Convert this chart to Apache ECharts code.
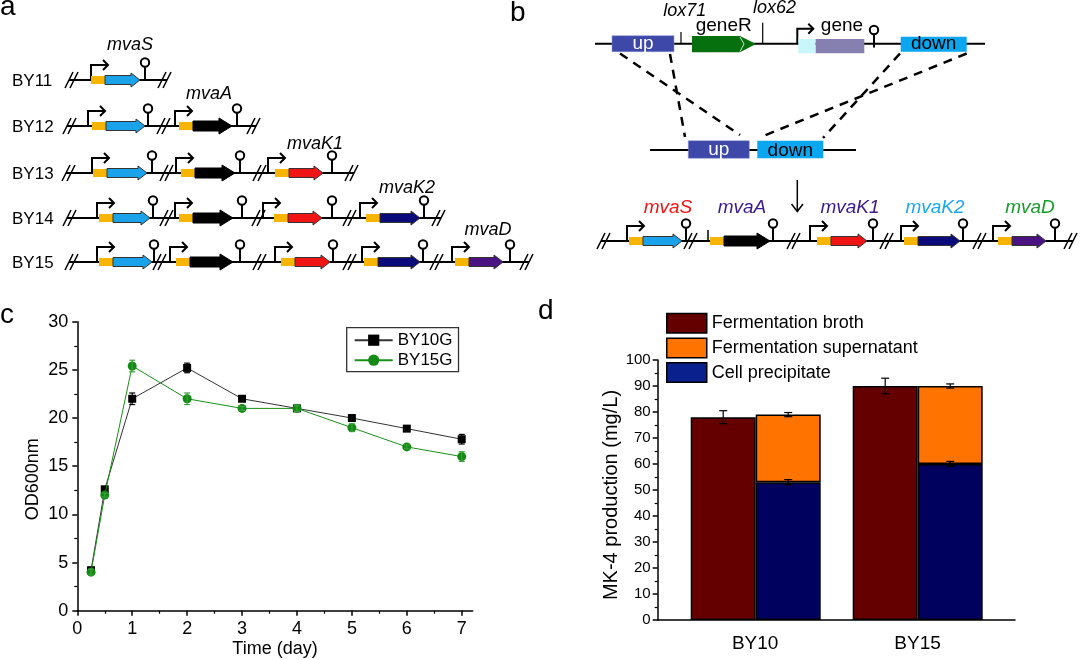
<!DOCTYPE html>
<html><head><meta charset="utf-8">
<script src="https://cdn.jsdelivr.net/npm/echarts@6/dist/echarts.min.js"></script>
<style>html,body{margin:0;padding:0;background:#fff}#main{width:1080px;height:660px}</style>
</head><body><div id="main"></div>
<script>
// ---------------- data ----------------
// panel c : growth curves
const timeDays = [0.25, 0.5, 1, 2, 3, 4, 5, 6, 7];
const by10g    = [4.2, 12.6, 22.0, 25.2, 22.0, 21.0, 20.0, 18.9, 17.8];
const by10gErr = [0.3, 0.2, 0.6, 0.5, 0.2, 0.2, 0.3, 0.2, 0.5];
const by15g    = [4.0, 12.0, 25.4, 22.0, 21.0, 21.0, 19.0, 17.0, 16.0];
const by15gErr = [0.3, 0.2, 0.6, 0.6, 0.2, 0.3, 0.4, 0.2, 0.5];
const dayTicks = [0, 1, 2, 3, 4, 5, 6, 7];
// panel d : MK-4 production
const strains = ['BY10', 'BY15'];
const strainPos = [1, 2];
const broth = [78, 90];
const brothErr = [2.5, 3];
const precipitate = [53, 60];
const precipitateErr = [1.0, 1.0];
const supernatant = [26, 30];
const supernatantErr = [0.8, 0.8];
const legendD = ['Fermentation broth', 'Fermentation supernatant', 'Cell precipitate'];

// ---------------- schematic drawing (panels a, b) ----------------
const FF = '"Liberation Sans", Arial, Helvetica, sans-serif';
const K = '#000';
const BLUE = '#1aa3ea', BLACK = '#000', RED = '#f01414', NAVY = '#0a0a7a', PURPLE = '#4b1282';
const G = [];
function ln(x1, y1, x2, y2, w, c, dash) {
  G.push({type: 'line', shape: {x1, y1, x2, y2}, style: {stroke: c || K, lineWidth: w || 2, lineDash: dash || null}});
}
function txt(x, y, s, size, opt) {
  opt = opt || {};
  G.push({type: 'text', x, y, style: {text: s, fontSize: size, fontFamily: FF,
    fontStyle: opt.italic ? 'italic' : 'normal', fill: opt.color || '#000',
    align: opt.align || 'center', verticalAlign: 'middle'}});
}
function brk(x, y) { ln(x, y + 8, x + 8, y - 8, 1.6); ln(x + 5, y + 8, x + 13, y - 8, 1.6); }
function prom(x, y, len) {
  G.push({type: 'polyline', shape: {points: [[x, y], [x, y - 15], [x + len, y - 15]]}, style: {stroke: K, lineWidth: 2, fill: null}});
  G.push({type: 'polyline', shape: {points: [[x + len - 5, y - 20], [x + len, y - 15], [x + len - 5, y - 10]]}, style: {stroke: K, lineWidth: 2, fill: null}});
}
function term(x, y) {
  ln(x, y, x, y - 13, 2);
  G.push({type: 'circle', shape: {cx: x, cy: y - 17.5, r: 4.2}, style: {fill: '#fff', stroke: K, lineWidth: 2}});
}
function rbs(x1, x2, y) { G.push({type: 'rect', shape: {x: x1, y: y - 4, width: x2 - x1, height: 8}, style: {fill: '#f7b500'}}); }
function gene(x1, x2, y, color) {
  const thick = color === BLACK;
  const h = thick ? 5 : 4.5, hh = thick ? 8 : 7, hl = thick ? 13 : 9;
  G.push({type: 'polygon', shape: {points: [[x1, y - h], [x2 - hl, y - h], [x2 - hl, y - hh], [x2, y], [x2 - hl, y + hh], [x2 - hl, y + h], [x1, y + h]]},
    style: {fill: color, stroke: thick ? '#000' : '#333', lineWidth: 1}});
}
function row(y, breaks, cassettes) {
  ln(breaks[0] + 4, y, breaks[breaks.length - 1] + 9, y, 2);
  breaks.forEach(b => brk(b, y));
  cassettes.forEach(c => {
    const [p, gs, ge, t, col] = c;
    if (p !== null) prom(p, y, 17); else ln(gs - 16, y, gs - 16, y - 11, 1.5);
    rbs(gs - 14, gs, y);
    gene(gs, ge, y, col);
    term(t, y);
  });
}
// panel labels
txt(0, 7, 'a', 28, {align: 'left'});
txt(510, 13, 'b', 28, {align: 'left'});
txt(0, 315, 'c', 28, {align: 'left'});
txt(538, 311, 'd', 28, {align: 'left'});

// panel a
const rowNames = ['BY11', 'BY12', 'BY13', 'BY14', 'BY15'];
const rowY = [80, 126, 173, 218, 262];
rowNames.forEach((n, i) => txt(12, rowY[i] + 1, n, 17, {align: 'left'}));
row(80, [65, 158], [[91, 105, 140, 145, BLUE]]);
row(126, [63, 157, 247], [[88, 106, 145, 148, BLUE], [175, 193, 232, 237, BLACK]]);
row(173, [62, 160, 253, 345], [[92, 107, 147, 152, BLUE], [176, 195, 235, 240, BLACK], [268, 289, 323, 332, RED]]);
row(218, [63, 160, 252, 343, 432], [[97, 113, 150, 153, BLUE], [175, 193, 233, 242, BLACK], [263, 288, 322, 332, RED], [360, 380, 420, 424, NAVY]]);
row(262, [65, 153, 253, 343, 430, 520], [[97, 113, 152, 154, BLUE], [170, 190, 233, 240, BLACK], [275, 295, 330, 333, RED], [362, 378, 420, 423, NAVY], [452, 469, 503, 510, PURPLE]]);
txt(130, 45, 'mvaS', 18, {italic: true});
txt(209, 94, 'mvaA', 18, {italic: true});
txt(315, 144, 'mvaK1', 18, {italic: true});
txt(407, 188, 'mvaK2', 18, {italic: true});
txt(488, 230, 'mvaD', 18, {italic: true});

// panel b top construct
ln(595, 43.7, 985, 43.7, 2);
G.push({type: 'rect', shape: {x: 612, y: 35.7, width: 62, height: 16}, style: {fill: '#3d48a8', stroke: '#8890d0', lineWidth: 0.5}});
txt(643, 43.5, 'up', 19, {color: '#fff'});
ln(681, 43.7, 681, 32, 1.2);
txt(684.7, 11, 'lox71', 18, {italic: true});
G.push({type: 'polygon', shape: {points: [[692, 36], [740, 36], [756, 44], [740, 52.3], [692, 52.3]]}, style: {fill: '#06700f'}});
ln(740, 37, 744, 44, 0.8, '#fff'); ln(744, 44, 740, 51.5, 0.8, '#fff');
txt(723.7, 25.7, 'geneR', 19);
ln(762.7, 43.7, 762.7, 22.7, 1.2);
txt(774.5, 8.3, 'lox62', 18, {italic: true});
prom(797.3, 43.7, 16);
G.push({type: 'rect', shape: {x: 798.3, y: 39, width: 17.4, height: 14.3}, style: {fill: '#c8f6fa'}});
G.push({type: 'rect', shape: {x: 815.7, y: 39, width: 48.6, height: 14.3}, style: {fill: '#8580b0'}});
txt(842, 26, 'gene', 19);
term(874, 47.5);
G.push({type: 'rect', shape: {x: 900.7, y: 36.7, width: 66, height: 15}, style: {fill: '#0aa6ef'}});
txt(933.7, 44, 'down', 19);
// dashed recombination lines
const DASH = [9, 7];
ln(620, 53.5, 740, 135, 2.5, K, DASH);
ln(670, 54, 685, 137, 2.5, K, DASH);
ln(900, 53.5, 823, 138, 2.5, K, DASH);
ln(966.7, 53.5, 762, 136.5, 2.5, K, DASH);
// middle construct
ln(650, 150, 856, 150, 2);
G.push({type: 'rect', shape: {x: 688.3, y: 140.7, width: 61, height: 17.6}, style: {fill: '#3d48a8', stroke: '#8890d0', lineWidth: 0.5}});
txt(718.8, 149.3, 'up', 19, {color: '#fff'});
G.push({type: 'rect', shape: {x: 757.3, y: 140.7, width: 66, height: 17.6}, style: {fill: '#0aa6ef'}});
txt(790.3, 150.3, 'down', 19);
// down arrow
ln(797.3, 180, 797.3, 211, 1.5);
G.push({type: 'polyline', shape: {points: [[791.5, 204], [797.3, 211.5], [803, 204]]}, style: {stroke: K, lineWidth: 1.5, fill: null}});
// bottom construct
row(241, [597, 684, 787, 880, 973, 1064], [[627, 643, 682, 686, BLUE], [null, 724, 770, 773, BLACK], [810, 831, 867, 873, RED], [901, 918, 960, 963, NAVY], [993, 1012, 1046, 1055, PURPLE]]);
txt(668, 208, 'mvaS', 19, {italic: true, color: '#f01414'});
txt(742, 208, 'mvaA', 19, {italic: true, color: '#3b1a8e'});
txt(850, 208, 'mvaK1', 19, {italic: true, color: '#3b1a8e'});
txt(935, 208, 'mvaK2', 19, {italic: true, color: '#1aa8f0'});
txt(1030, 208, 'mvaD', 19, {italic: true, color: '#1a9a2a'});

// ---------------- charts (panels c, d) ----------------
function errBar(capHalf, offsetPx, color) {
  return function (params, api) {
    const x = api.value(0), y = api.value(1), e = api.value(2);
    const hi = api.coord([x, y + e]), lo = api.coord([x, y - e]);
    const cx = hi[0] + offsetPx;
    const st = {stroke: color, lineWidth: 1.2};
    return {type: 'group', children: [
      {type: 'line', shape: {x1: cx, y1: hi[1], x2: cx, y2: lo[1]}, style: st},
      {type: 'line', shape: {x1: cx - capHalf, y1: hi[1], x2: cx + capHalf, y2: hi[1]}, style: st},
      {type: 'line', shape: {x1: cx - capHalf, y1: lo[1], x2: cx + capHalf, y2: lo[1]}, style: st}
    ]};
  };
}
const axisTxt = (size) => ({fontSize: size, color: '#000', fontFamily: FF});
const minorDays = dayTicks.slice(0, -1).map(d => d + 0.5);

const option = {
  animation: false,
  backgroundColor: '#fff',
  textStyle: {fontFamily: FF},
  grid: [
    {left: 77.3, top: 321.7, width: 395.4, height: 289},
    {left: 657.7, top: 360, width: 357.3, height: 260},
    {left: 674.7, top: 360, width: 324, height: 260}
  ],
  xAxis: [
    {type: 'value', gridIndex: 0, position: 'bottom', min: 0, max: 7.2, interval: 1,
     axisLine: {lineStyle: {color: '#000', width: 1.5}},
     axisTick: {show: true, length: 5, customValues: dayTicks, lineStyle: {color: '#000', width: 1.5}},
     axisLabel: Object.assign({customValues: dayTicks, margin: 9}, axisTxt(18)),
     splitLine: {show: false},
     name: 'Time (day)', nameLocation: 'middle', nameGap: 29, nameTextStyle: axisTxt(18)},
    {type: 'value', gridIndex: 0, position: 'bottom', min: 0, max: 7.2, interval: 1,
     axisLine: {show: false},
     axisTick: {show: true, length: 3, customValues: minorDays, lineStyle: {color: '#000', width: 1.2}},
     axisLabel: {show: false}, splitLine: {show: false}},
    {type: 'value', gridIndex: 1, position: 'bottom', min: 0.4, max: 2.6, interval: 1,
     axisLine: {lineStyle: {color: '#000', width: 1.5}},
     axisTick: {show: false},
     axisLabel: Object.assign({customValues: strainPos, margin: 14,
       formatter: v => strains[strainPos.indexOf(Math.round(v))]}, axisTxt(19)),
     splitLine: {show: false}},
    {type: 'category', gridIndex: 2, data: strains, show: false, boundaryGap: true}
  ],
  yAxis: [
    {type: 'value', gridIndex: 0, min: 0, max: 30, interval: 5,
     axisLine: {show: true, lineStyle: {color: '#000', width: 1.5}},
     axisTick: {show: true, length: 5, lineStyle: {color: '#000', width: 1.5}},
     minorTick: {show: true, splitNumber: 2, length: 3, lineStyle: {color: '#000', width: 1.2}},
     axisLabel: Object.assign({margin: 9}, axisTxt(18)),
     splitLine: {show: false},
     name: 'OD600nm', nameLocation: 'middle', nameGap: 35,
     nameTextStyle: Object.assign({padding: [0, 26, 0, 0]}, axisTxt(18))},
    {type: 'value', gridIndex: 1, min: 0, max: 100, interval: 10,
     axisLine: {show: true, lineStyle: {color: '#000', width: 1.5}},
     axisTick: {show: true, length: 5, lineStyle: {color: '#000', width: 1.5}},
     minorTick: {show: true, splitNumber: 2, length: 3, lineStyle: {color: '#000', width: 1.2}},
     axisLabel: Object.assign({margin: 7}, axisTxt(15)),
     splitLine: {show: false},
     name: 'MK-4 production (mg/L)', nameLocation: 'middle', nameGap: 36,
     nameTextStyle: Object.assign({padding: [0, 10, 0, 0]}, axisTxt(20))},
    {type: 'value', gridIndex: 2, min: 0, max: 100, show: false, splitLine: {show: false}}
  ],
  legend: [
    {data: ['BY10G', 'BY15G'], left: 346.7, top: 327.7, orient: 'vertical',
     borderColor: '#333', borderWidth: 1.3, padding: [4, 6, 3, 7], itemGap: 3,
     itemWidth: 38, itemHeight: 14, textStyle: axisTxt(17)},
    {data: [
       {name: legendD[0], itemStyle: {color: '#650000'}},
       {name: legendD[1], itemStyle: {color: '#ff7300'}},
       {name: legendD[2], itemStyle: {color: '#0a208c'}}],
     left: 666, top: 312.7, orient: 'vertical', icon: 'rect', padding: 0,
     itemWidth: 40, itemHeight: 19.5, itemGap: 3.7,
     itemStyle: {borderColor: '#000', borderWidth: 1.5},
     textStyle: axisTxt(18)}
  ],
  series: [
    {name: 'BY10G', type: 'line', xAxisIndex: 0, yAxisIndex: 0,
     data: timeDays.map((t, i) => [t, by10g[i]]),
     symbol: 'rect', symbolSize: 8, itemStyle: {color: '#000'},
     lineStyle: {color: '#333', width: 1}, z: 3},
    {name: 'BY10G', type: 'custom', xAxisIndex: 0, yAxisIndex: 0,
     data: timeDays.map((t, i) => [t, by10g[i], by10gErr[i]]),
     renderItem: errBar(3, 0, '#000'), z: 4},
    {name: 'BY15G', type: 'line', xAxisIndex: 0, yAxisIndex: 0,
     data: timeDays.map((t, i) => [t, by15g[i]]),
     symbol: 'circle', symbolSize: 9, itemStyle: {color: '#138a13'},
     lineStyle: {color: '#1a8f1a', width: 1}, z: 5},
    {name: 'BY15G', type: 'custom', xAxisIndex: 0, yAxisIndex: 0,
     data: timeDays.map((t, i) => [t, by15g[i], by15gErr[i]]),
     renderItem: errBar(3, 0, '#3aa03a'), z: 6},

    {name: legendD[0], type: 'bar', xAxisIndex: 3, yAxisIndex: 2,
     data: broth, barWidth: 65, barGap: '0%',
     itemStyle: {color: '#650000', borderColor: '#000', borderWidth: 1.5}},
    {name: legendD[2], type: 'bar', stack: 'parts', xAxisIndex: 3, yAxisIndex: 2,
     data: precipitate, barWidth: 65, barGap: '0%',
     itemStyle: {color: '#00005e', borderColor: '#000', borderWidth: 1.5}},
    {name: legendD[1], type: 'bar', stack: 'parts', xAxisIndex: 3, yAxisIndex: 2,
     data: supernatant, barWidth: 65, barGap: '0%',
     itemStyle: {color: '#ff7300', borderColor: '#000', borderWidth: 1.5}},
    {type: 'custom', xAxisIndex: 3, yAxisIndex: 2, z: 10,
     data: strains.map((s, i) => [i, broth[i], brothErr[i]]),
     renderItem: errBar(4, -32.5, '#000')},
    {type: 'custom', xAxisIndex: 3, yAxisIndex: 2, z: 10,
     data: strains.map((s, i) => [i, precipitate[i], precipitateErr[i]]),
     renderItem: errBar(4, 32.5, '#000')},
    {type: 'custom', xAxisIndex: 3, yAxisIndex: 2, z: 10,
     data: strains.map((s, i) => [i, precipitate[i] + supernatant[i], supernatantErr[i]]),
     renderItem: errBar(4, 32.5, '#000')}
  ],
  graphic: {elements: G}
};
const chart = echarts.init(document.getElementById('main'), null, {renderer: 'canvas'});
chart.setOption(option);
</script>
</body></html>
